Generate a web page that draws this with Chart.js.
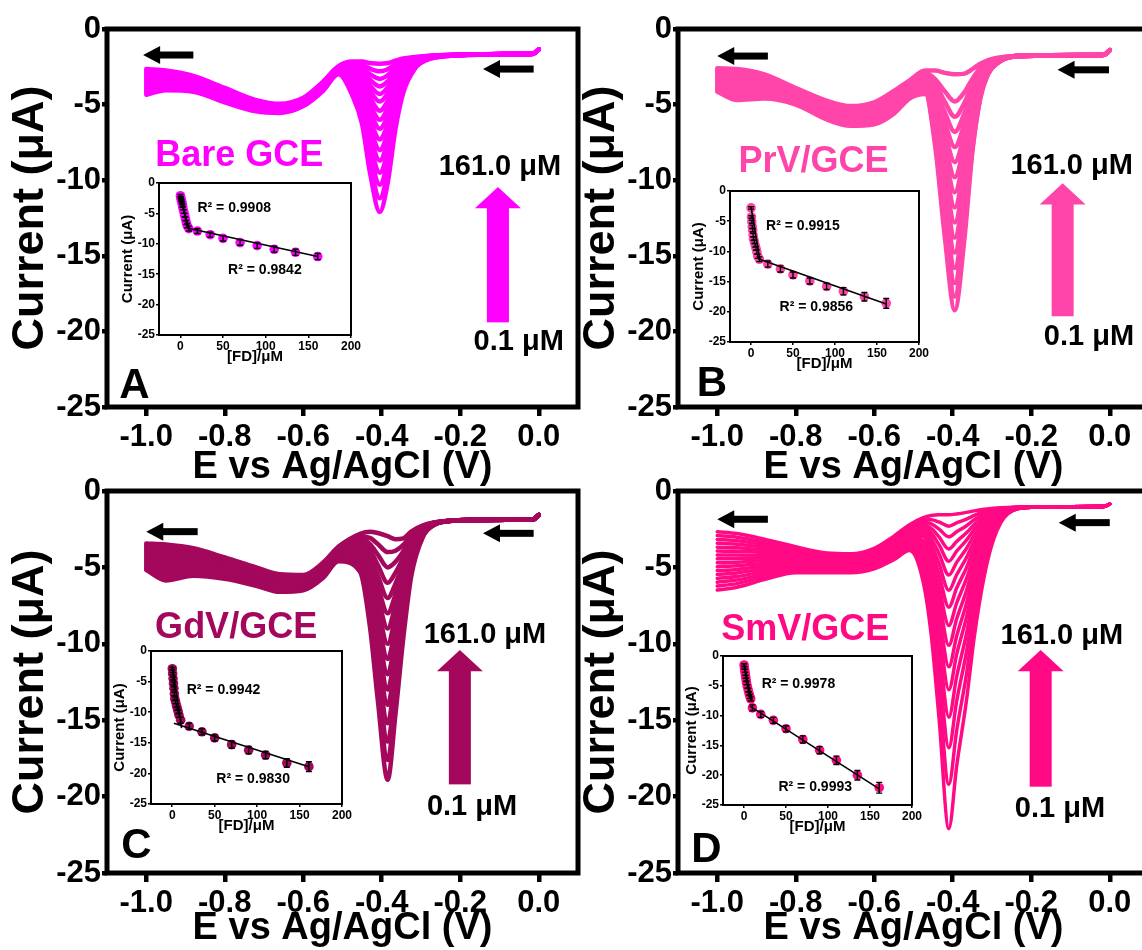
<!DOCTYPE html>
<html>
<head>
<meta charset="utf-8">
<title>FD titration - DPV</title>
<script src="https://cdn.jsdelivr.net/npm/chart.js@4.4.1/dist/chart.umd.min.js"></script>
<style>
  html, body { margin: 0; padding: 0; background: #fff; overflow: hidden; }
  body { width: 1142px; height: 950px; position: relative; }
  canvas { position: absolute; }
</style>
</head>
<body>
<canvas id="mainA"></canvas>
<canvas id="mainB"></canvas>
<canvas id="mainC"></canvas>
<canvas id="mainD"></canvas>
<canvas id="insetA"></canvas>
<canvas id="insetB"></canvas>
<canvas id="insetC"></canvas>
<canvas id="insetD"></canvas>
<script>
'use strict'

// ---- axis ticks ----
var potTicks = [-1.0, -0.8, -0.6, -0.4, -0.2, 0.0];
var currentTicks = [0, -5, -10, -15, -20, -25];
var concTicks = [0, 50, 100, 150, 200];

// ---- DPV curves ----
// potentials (V) where the currents were read, one list per electrode
var potA = [-1.00, -0.95, -0.88, -0.80, -0.72, -0.66, -0.60, -0.55, -0.51, -0.475, -0.45, -0.43, -0.405, -0.385, -0.365, -0.345, -0.315, -0.285, -0.245, -0.18, -0.08, -0.015, 0.00];
var potB = [-1.00, -0.95, -0.88, -0.80, -0.72, -0.66, -0.60, -0.55, -0.51, -0.47, -0.445, -0.42, -0.395, -0.37, -0.35, -0.33, -0.31, -0.285, -0.25, -0.18, -0.08, -0.015, 0.00];
var potC = [-1.00, -0.95, -0.88, -0.80, -0.72, -0.66, -0.60, -0.55, -0.51, -0.455, -0.43, -0.41, -0.385, -0.365, -0.345, -0.325, -0.295, -0.265, -0.225, -0.16, -0.08, -0.015, 0.00];
var potD = [-1.00, -0.95, -0.88, -0.80, -0.72, -0.66, -0.60, -0.55, -0.51, -0.475, -0.455, -0.435, -0.41, -0.39, -0.365, -0.345, -0.32, -0.295, -0.26, -0.20, -0.10, -0.015, 0.00];

// currents (uA): one row per potential above, one column per FD addition (0.1 -> 161.0 uM)
var curA = [
  [-2.65,-2.76,-2.88,-2.99,-3.10,-3.22,-3.33,-3.44,-3.56,-3.67,-3.78,-3.90,-4.01,-4.12,-4.24,-4.35],
  [-2.75,-2.84,-2.92,-3.01,-3.10,-3.18,-3.27,-3.36,-3.44,-3.53,-3.62,-3.70,-3.79,-3.88,-3.96,-4.05],
  [-3.10,-3.17,-3.24,-3.31,-3.38,-3.45,-3.52,-3.59,-3.66,-3.73,-3.80,-3.87,-3.94,-4.01,-4.08,-4.15],
  [-3.90,-3.96,-4.03,-4.09,-4.15,-4.22,-4.28,-4.34,-4.41,-4.47,-4.53,-4.60,-4.66,-4.72,-4.79,-4.85],
  [-4.70,-4.75,-4.80,-4.85,-4.90,-4.95,-5.00,-5.05,-5.10,-5.15,-5.20,-5.25,-5.30,-5.35,-5.40,-5.45],
  [-4.95,-4.99,-5.03,-5.07,-5.11,-5.15,-5.19,-5.23,-5.27,-5.31,-5.35,-5.39,-5.43,-5.47,-5.51,-5.55],
  [-4.55,-4.59,-4.62,-4.66,-4.70,-4.73,-4.77,-4.81,-4.84,-4.88,-4.92,-4.95,-4.99,-5.03,-5.06,-5.10],
  [-3.50,-3.54,-3.58,-3.62,-3.66,-3.70,-3.74,-3.78,-3.82,-3.86,-3.90,-3.94,-3.98,-4.02,-4.06,-4.10],
  [-2.45,-2.48,-2.52,-2.55,-2.58,-2.62,-2.65,-2.68,-2.72,-2.75,-2.78,-2.82,-2.85,-2.88,-2.92,-3.00],
  [-2.15,-2.27,-2.38,-2.49,-2.61,-2.72,-2.86,-3.00,-3.14,-3.30,-3.46,-3.62,-3.80,-3.99,-4.19,-4.40],
  [-2.15,-2.36,-2.57,-2.79,-3.00,-3.21,-3.46,-3.72,-3.97,-4.27,-4.57,-4.86,-5.20,-5.54,-5.92,-6.30],
  [-2.25,-2.62,-2.99,-3.36,-3.73,-4.10,-4.54,-4.99,-5.43,-5.95,-6.47,-6.98,-7.58,-8.17,-8.83,-9.50],
  [-2.30,-2.80,-3.30,-3.80,-4.30,-4.80,-5.40,-6.00,-6.60,-7.30,-8.00,-8.70,-9.50,-10.30,-11.20,-12.10],
  [-2.25,-2.66,-3.06,-3.47,-3.87,-4.28,-4.76,-5.26,-5.74,-6.31,-6.88,-7.44,-8.09,-8.74,-9.47,-10.20],
  [-2.10,-2.33,-2.56,-2.79,-3.02,-3.25,-3.52,-3.80,-4.08,-4.40,-4.72,-5.04,-5.41,-5.77,-6.19,-6.60],
  [-1.95,-2.07,-2.18,-2.29,-2.41,-2.52,-2.66,-2.80,-2.94,-3.10,-3.26,-3.42,-3.60,-3.79,-3.99,-4.20],
  [-1.85,-1.89,-1.93,-1.96,-2.00,-2.04,-2.09,-2.13,-2.18,-2.23,-2.29,-2.34,-2.40,-2.46,-2.53,-2.60],
  [-1.78,-1.79,-1.81,-1.82,-1.84,-1.85,-1.87,-1.88,-1.90,-1.92,-1.94,-1.96,-1.98,-2.00,-2.03,-2.05],
  [-1.72,-1.73,-1.73,-1.74,-1.74,-1.75,-1.75,-1.76,-1.77,-1.77,-1.78,-1.78,-1.79,-1.80,-1.81,-1.82],
  [-1.68,-1.68,-1.69,-1.69,-1.69,-1.69,-1.70,-1.70,-1.70,-1.70,-1.71,-1.71,-1.71,-1.71,-1.72,-1.72],
  [-1.65,-1.65,-1.65,-1.65,-1.65,-1.65,-1.66,-1.66,-1.66,-1.66,-1.66,-1.66,-1.67,-1.67,-1.67,-1.67],
  [-1.63,-1.63,-1.63,-1.63,-1.63,-1.63,-1.63,-1.63,-1.64,-1.64,-1.64,-1.64,-1.65,-1.65,-1.65,-1.65],
  [-1.35,-1.35,-1.35,-1.35,-1.35,-1.35,-1.35,-1.35,-1.35,-1.35,-1.35,-1.35,-1.35,-1.35,-1.35,-1.35]
];
var curB = [
  [-2.60,-2.70,-2.81,-2.91,-3.01,-3.12,-3.22,-3.32,-3.43,-3.53,-3.63,-3.74,-3.84,-3.94,-4.05,-4.15],
  [-2.65,-2.79,-2.92,-3.06,-3.20,-3.33,-3.47,-3.61,-3.74,-3.88,-4.02,-4.15,-4.29,-4.43,-4.56,-4.70],
  [-3.00,-3.11,-3.21,-3.32,-3.43,-3.53,-3.64,-3.75,-3.85,-3.96,-4.07,-4.17,-4.28,-4.39,-4.49,-4.60],
  [-3.90,-3.97,-4.05,-4.12,-4.19,-4.27,-4.34,-4.41,-4.49,-4.56,-4.63,-4.71,-4.78,-4.85,-4.93,-5.00],
  [-4.75,-4.83,-4.92,-5.00,-5.08,-5.17,-5.25,-5.33,-5.42,-5.50,-5.58,-5.67,-5.75,-5.83,-5.92,-6.00],
  [-5.10,-5.19,-5.27,-5.36,-5.45,-5.53,-5.62,-5.71,-5.79,-5.88,-5.97,-6.05,-6.14,-6.23,-6.31,-6.40],
  [-4.85,-4.95,-5.04,-5.14,-5.24,-5.33,-5.43,-5.53,-5.62,-5.72,-5.82,-5.91,-6.01,-6.11,-6.20,-6.30],
  [-4.10,-4.20,-4.30,-4.40,-4.50,-4.60,-4.70,-4.80,-4.90,-5.00,-5.10,-5.20,-5.30,-5.40,-5.50,-5.60],
  [-3.40,-3.48,-3.56,-3.64,-3.72,-3.80,-3.88,-3.96,-4.04,-4.12,-4.20,-4.28,-4.36,-4.44,-4.52,-4.60],
  [-2.75,-2.93,-3.03,-3.13,-3.23,-3.33,-3.43,-3.53,-3.62,-3.72,-3.82,-3.92,-4.02,-4.12,-4.21,-4.30],
  [-2.75,-3.31,-3.62,-3.93,-4.24,-4.55,-4.87,-5.18,-5.49,-5.80,-6.11,-6.42,-6.73,-7.04,-7.32,-7.70],
  [-2.90,-4.14,-4.82,-5.51,-6.19,-6.88,-7.56,-8.25,-8.93,-9.61,-10.30,-10.98,-11.68,-12.37,-12.98,-13.80],
  [-3.00,-4.80,-5.80,-6.80,-7.80,-8.80,-9.80,-10.80,-11.80,-12.80,-13.80,-14.80,-15.80,-16.80,-17.70,-18.60],
  [-2.95,-4.17,-4.86,-5.55,-6.23,-6.92,-7.61,-8.29,-8.97,-9.65,-10.34,-11.02,-11.72,-12.41,-13.02,-13.80],
  [-2.65,-3.30,-3.66,-4.03,-4.39,-4.75,-5.11,-5.48,-5.84,-6.20,-6.56,-6.92,-7.29,-7.65,-7.97,-8.10],
  [-2.30,-2.58,-2.73,-2.89,-3.04,-3.19,-3.35,-3.50,-3.65,-3.81,-3.96,-4.11,-4.27,-4.42,-4.56,-4.60],
  [-2.05,-2.16,-2.22,-2.28,-2.34,-2.40,-2.46,-2.53,-2.59,-2.65,-2.71,-2.77,-2.83,-2.89,-2.95,-3.00],
  [-1.90,-1.94,-1.96,-1.99,-2.01,-2.03,-2.05,-2.08,-2.10,-2.12,-2.14,-2.16,-2.19,-2.21,-2.23,-2.25],
  [-1.80,-1.80,-1.81,-1.81,-1.81,-1.82,-1.82,-1.82,-1.83,-1.83,-1.83,-1.84,-1.84,-1.84,-1.85,-1.85],
  [-1.75,-1.75,-1.75,-1.75,-1.75,-1.75,-1.75,-1.75,-1.76,-1.76,-1.76,-1.76,-1.77,-1.77,-1.77,-1.77],
  [-1.72,-1.72,-1.72,-1.72,-1.72,-1.72,-1.72,-1.72,-1.73,-1.73,-1.73,-1.73,-1.74,-1.74,-1.74,-1.74],
  [-1.70,-1.70,-1.70,-1.70,-1.70,-1.70,-1.70,-1.70,-1.71,-1.71,-1.71,-1.71,-1.72,-1.72,-1.72,-1.72],
  [-1.40,-1.40,-1.40,-1.40,-1.40,-1.40,-1.40,-1.40,-1.41,-1.41,-1.41,-1.41,-1.42,-1.42,-1.42,-1.42]
];
var curC = [
  [-3.43,-3.55,-3.66,-3.78,-3.90,-4.01,-4.13,-4.24,-4.36,-4.47,-4.59,-4.71,-4.82,-4.94,-5.05,-5.17],
  [-3.50,-3.66,-3.81,-3.97,-4.13,-4.28,-4.44,-4.60,-4.75,-4.91,-5.07,-5.22,-5.38,-5.54,-5.69,-5.85],
  [-3.75,-3.87,-3.99,-4.11,-4.23,-4.35,-4.47,-4.59,-4.71,-4.83,-4.95,-5.07,-5.19,-5.31,-5.43,-5.55],
  [-4.35,-4.44,-4.54,-4.63,-4.72,-4.82,-4.91,-5.00,-5.10,-5.19,-5.28,-5.38,-5.47,-5.56,-5.66,-5.75],
  [-5.00,-5.08,-5.16,-5.24,-5.32,-5.40,-5.48,-5.56,-5.64,-5.72,-5.80,-5.88,-5.96,-6.04,-6.12,-6.20],
  [-5.45,-5.53,-5.60,-5.68,-5.76,-5.83,-5.91,-5.99,-6.06,-6.14,-6.22,-6.29,-6.37,-6.45,-6.52,-6.60],
  [-5.50,-5.57,-5.63,-5.70,-5.77,-5.83,-5.90,-5.97,-6.03,-6.10,-6.17,-6.23,-6.30,-6.37,-6.43,-6.50],
  [-4.70,-4.77,-4.83,-4.90,-4.97,-5.03,-5.10,-5.17,-5.23,-5.30,-5.37,-5.43,-5.50,-5.57,-5.63,-5.70],
  [-3.64,-3.70,-3.77,-3.83,-3.90,-3.96,-4.02,-4.09,-4.15,-4.22,-4.28,-4.34,-4.41,-4.47,-4.54,-4.60],
  [-2.80,-2.97,-3.12,-3.28,-3.44,-3.59,-3.75,-3.91,-4.06,-4.22,-4.38,-4.53,-4.72,-4.91,-5.10,-5.30],
  [-2.66,-3.07,-3.47,-3.85,-4.25,-4.64,-5.03,-5.42,-5.81,-6.20,-6.59,-6.98,-7.45,-7.92,-8.39,-8.90],
  [-2.75,-3.47,-4.16,-4.84,-5.53,-6.22,-6.90,-7.59,-8.28,-8.96,-9.65,-10.34,-11.16,-11.98,-12.80,-13.70],
  [-2.95,-4.00,-5.00,-6.00,-7.00,-8.00,-9.00,-10.00,-11.00,-12.00,-13.00,-14.00,-15.20,-16.40,-17.60,-18.90],
  [-3.15,-3.91,-4.63,-5.34,-6.06,-6.78,-7.49,-8.21,-8.93,-9.64,-10.36,-11.09,-11.94,-12.80,-13.66,-14.60],
  [-3.10,-3.53,-3.94,-4.34,-4.75,-5.16,-5.56,-5.97,-6.38,-6.79,-7.20,-7.61,-8.09,-8.58,-9.07,-9.60],
  [-2.65,-2.85,-3.03,-3.21,-3.40,-3.59,-3.77,-3.95,-4.14,-4.32,-4.51,-4.69,-4.92,-5.14,-5.36,-5.60],
  [-2.25,-2.30,-2.35,-2.39,-2.44,-2.49,-2.53,-2.58,-2.63,-2.68,-2.72,-2.77,-2.83,-2.88,-2.94,-3.00],
  [-2.05,-2.06,-2.07,-2.08,-2.09,-2.10,-2.11,-2.12,-2.13,-2.14,-2.15,-2.16,-2.17,-2.18,-2.19,-2.20],
  [-1.94,-1.94,-1.94,-1.94,-1.94,-1.94,-1.94,-1.94,-1.95,-1.95,-1.95,-1.95,-1.95,-1.96,-1.96,-1.96],
  [-1.90,-1.90,-1.90,-1.90,-1.90,-1.90,-1.90,-1.90,-1.90,-1.90,-1.90,-1.90,-1.90,-1.90,-1.90,-1.90],
  [-1.88,-1.88,-1.88,-1.88,-1.88,-1.88,-1.88,-1.88,-1.88,-1.88,-1.88,-1.88,-1.88,-1.88,-1.88,-1.88],
  [-1.87,-1.87,-1.87,-1.87,-1.87,-1.87,-1.87,-1.87,-1.87,-1.87,-1.87,-1.87,-1.87,-1.87,-1.87,-1.87],
  [-1.57,-1.57,-1.57,-1.57,-1.57,-1.57,-1.57,-1.57,-1.57,-1.57,-1.57,-1.57,-1.57,-1.57,-1.57,-1.57]
];
var curD = [
  [-2.66,-2.92,-3.17,-3.42,-3.68,-3.93,-4.19,-4.44,-4.70,-4.95,-5.21,-5.46,-5.72,-5.97,-6.22,-6.48],
  [-2.78,-3.02,-3.25,-3.48,-3.72,-3.95,-4.19,-4.42,-4.66,-4.89,-5.13,-5.36,-5.60,-5.83,-6.06,-6.30],
  [-3.15,-3.33,-3.50,-3.68,-3.86,-4.03,-4.21,-4.39,-4.56,-4.74,-4.92,-5.09,-5.27,-5.45,-5.62,-5.80],
  [-3.65,-3.76,-3.88,-3.99,-4.10,-4.22,-4.33,-4.44,-4.56,-4.67,-4.78,-4.90,-5.01,-5.12,-5.24,-5.35],
  [-4.05,-4.14,-4.22,-4.31,-4.40,-4.48,-4.57,-4.66,-4.74,-4.83,-4.92,-5.00,-5.09,-5.18,-5.26,-5.35],
  [-4.10,-4.18,-4.27,-4.35,-4.43,-4.52,-4.60,-4.68,-4.77,-4.85,-4.93,-5.02,-5.10,-5.18,-5.27,-5.35],
  [-3.75,-3.84,-3.93,-4.02,-4.11,-4.20,-4.29,-4.38,-4.47,-4.56,-4.65,-4.74,-4.83,-4.92,-5.01,-5.10],
  [-2.95,-3.05,-3.16,-3.26,-3.36,-3.47,-3.57,-3.67,-3.78,-3.88,-3.98,-4.09,-4.19,-4.29,-4.40,-4.50],
  [-2.20,-2.31,-2.43,-2.54,-2.65,-2.77,-2.88,-2.99,-3.11,-3.22,-3.33,-3.45,-3.56,-3.67,-3.79,-3.90],
  [-1.75,-1.90,-2.05,-2.21,-2.38,-2.57,-2.77,-3.00,-3.25,-3.52,-3.81,-4.12,-4.49,-4.90,-5.40,-6.00],
  [-1.60,-1.88,-2.15,-2.45,-2.75,-3.10,-3.48,-3.89,-4.35,-4.85,-5.38,-5.95,-6.63,-7.39,-8.30,-9.40],
  [-1.55,-2.03,-2.49,-3.00,-3.52,-4.10,-4.76,-5.46,-6.25,-7.08,-7.99,-8.96,-10.13,-11.42,-12.97,-14.85],
  [-1.55,-2.30,-3.00,-3.80,-4.60,-5.50,-6.50,-7.60,-8.80,-10.10,-11.50,-13.00,-14.80,-16.80,-19.20,-22.10],
  [-1.50,-2.09,-2.67,-3.30,-3.94,-4.67,-5.48,-6.35,-7.33,-8.36,-9.49,-10.69,-12.14,-13.74,-15.67,-18.00],
  [-1.40,-1.84,-2.27,-2.74,-3.22,-3.76,-4.36,-5.02,-5.74,-6.52,-7.35,-8.25,-9.33,-10.53,-11.97,-13.70],
  [-1.30,-1.60,-1.88,-2.19,-2.51,-2.87,-3.28,-3.71,-4.20,-4.71,-5.27,-5.87,-6.59,-7.38,-8.34,-9.50],
  [-1.20,-1.36,-1.51,-1.68,-1.85,-2.05,-2.26,-2.49,-2.75,-3.03,-3.33,-3.65,-4.04,-4.47,-4.98,-5.60],
  [-1.13,-1.20,-1.27,-1.35,-1.42,-1.51,-1.61,-1.71,-1.83,-1.95,-2.08,-2.23,-2.40,-2.59,-2.82,-3.10],
  [-1.08,-1.10,-1.11,-1.13,-1.14,-1.16,-1.18,-1.20,-1.23,-1.26,-1.28,-1.31,-1.35,-1.39,-1.44,-1.50],
  [-1.05,-1.05,-1.05,-1.05,-1.05,-1.05,-1.05,-1.05,-1.06,-1.06,-1.06,-1.06,-1.07,-1.07,-1.07,-1.07],
  [-1.03,-1.03,-1.03,-1.03,-1.03,-1.03,-1.03,-1.03,-1.03,-1.03,-1.03,-1.03,-1.03,-1.03,-1.03,-1.03],
  [-1.02,-1.02,-1.02,-1.02,-1.02,-1.02,-1.02,-1.02,-1.02,-1.02,-1.02,-1.02,-1.02,-1.02,-1.02,-1.02],
  [-0.85,-0.85,-0.85,-0.85,-0.85,-0.85,-0.85,-0.85,-0.85,-0.85,-0.85,-0.85,-0.85,-0.85,-0.85,-0.85]
];

// ---- calibration insets ----
var concLow = [0.1, 0.5, 1, 1.5, 2, 2.5, 3, 4, 5, 6, 7, 8];
var concHigh = [10, 20, 35, 50, 70, 90, 110, 135, 161];
var errLow = [0.2, 0.2, 0.25, 0.25, 0.25, 0.3, 0.3, 0.3, 0.3, 0.3, 0.35, 0.35];

var lowA = [-2.1, -2.4, -2.7, -3.0, -3.3, -3.7, -4.1, -4.7, -5.3, -5.9, -6.5, -7.0];
var highA = [-7.5, -7.9, -8.5, -9.1, -9.8, -10.3, -10.9, -11.4, -12.1];
var errHighA = [0.4, 0.4, 0.4, 0.45, 0.45, 0.45, 0.5, 0.5, 0.5];
var fitLowA = [[0, -1.9], [10, -7.6]];
var fitHighA = [[8, -7.4], [161, -12.1]];

var lowB = [-2.8, -4.3, -5.1, -5.9, -6.5, -7.3, -7.9, -8.4, -9.0, -9.5, -10.1, -10.8];
var highB = [-11.3, -12.1, -12.9, -13.9, -14.9, -15.8, -16.6, -17.5, -18.6];
var errHighB = [0.4, 0.5, 0.5, 0.5, 0.5, 0.5, 0.6, 0.7, 0.8];
var fitLowB = [[0, -2.6], [10.5, -11.4]];
var fitHighB = [[8.5, -11.2], [161, -18.7]];

var lowC = [-2.9, -3.7, -4.5, -5.3, -6.1, -7.0, -7.8, -8.3, -8.9, -9.4, -9.9, -10.5];
var highC = [-11.3, -12.3, -13.2, -14.2, -15.3, -16.2, -17.0, -18.3, -18.9];
var errHighC = [0.5, 0.5, 0.5, 0.5, 0.6, 0.6, 0.6, 0.7, 0.8];
var fitLowC = [[0, -2.4], [11, -12.6]];
var fitHighC = [[2, -11.8], [161, -18.9]];

var lowD = [-1.5, -2.0, -2.5, -3.0, -3.5, -4.0, -4.5, -5.1, -5.7, -6.3, -6.8, -7.2];
var highD = [-8.7, -9.8, -10.8, -12.2, -14.0, -15.8, -17.5, -20.0, -22.1];
var errHighD = [0.5, 0.5, 0.5, 0.5, 0.6, 0.6, 0.7, 0.8, 0.9];
var fitLowD = [[0, -1.3], [9.5, -7.6]];
var fitHighD = [[7, -8.4], [161, -22.3]];

var FONT = "'Liberation Sans', Arial, Helvetica, sans-serif";
Chart.defaults.font.family = FONT;
Chart.defaults.color = '#000';

function placeCanvas(id, box) {
  var cv = document.getElementById(id);
  cv.width = box.w;
  cv.height = box.h;
  cv.style.left = box.left + 'px';
  cv.style.top = box.top + 'px';
  return cv;
}

function framePlugin(w) {
  return {
    id: 'frame',
    afterDatasetsDraw: function (chart) {
      var a = chart.chartArea, c = chart.ctx;
      c.save();
      c.strokeStyle = '#000';
      c.lineWidth = w;
      c.strokeRect(a.left, a.top, a.right - a.left, a.bottom - a.top);
      c.restore();
    }
  };
}

// arrows, electrode name, concentration labels, panel letter
function panelMarks(look) {
  return {
    id: 'marks',
    afterDraw: function (chart) {
      var c = chart.ctx, sx = chart.scales.x, sy = chart.scales.y;
      var X = function (v) { return sx.getPixelForValue(v); };
      var Y = function (v) { return sy.getPixelForValue(v); };
      c.save();
      c.fillStyle = '#000';
      look.scan.forEach(function (a) {
        var x0 = X(a.tip), x1 = X(a.tail), y = Y(a.at);
        c.fillRect(x0 + 14, y - 3.5, x1 - x0 - 14, 7);
        c.beginPath();
        c.moveTo(x0, y);
        c.lineTo(x0 + 17, y - 9);
        c.lineTo(x0 + 17, y + 9);
        c.closePath();
        c.fill();
      });
      var u = look.up, ux = X(u.x);
      c.fillStyle = look.color;
      c.fillRect(ux - 11, Y(u.head) - 1, 22, Y(u.from) - Y(u.head) + 1);
      c.beginPath();
      c.moveTo(ux, Y(u.tip));
      c.lineTo(ux - 23, Y(u.head));
      c.lineTo(ux + 23, Y(u.head));
      c.closePath();
      c.fill();

      c.textAlign = 'center';
      c.textBaseline = 'middle';
      c.font = 'bold 36px ' + FONT;
      c.fillText(look.name, X(look.nameAt[0]), Y(look.nameAt[1]));
      c.fillStyle = '#000';
      c.font = 'bold 29px ' + FONT;
      c.fillText(look.topText, X(look.topAt[0]), Y(look.topAt[1]));
      c.fillText(look.bottomText, X(look.bottomAt[0]), Y(look.bottomAt[1]));
      c.textAlign = 'left';
      c.textBaseline = 'alphabetic';
      c.font = 'bold 42px ' + FONT;
      c.fillText(look.letter, X(look.letterAt[0]), Y(look.letterAt[1]));
      c.restore();
    }
  };
}

function drawPanel(id, box, pot, rows, look) {
  var sets = [];
  for (var k = 0; k < rows[0].length; k++) {
    sets.push({
      data: pot.map(function (e, i) { return {x: e, y: rows[i][k]}; }),
      borderColor: look.color,
      borderWidth: look.stroke,
      pointRadius: 0,
      cubicInterpolationMode: 'monotone',
      borderJoinStyle: 'round',
      borderCapStyle: 'round',
      fill: false
    });
  }
  new Chart(placeCanvas(id, box), {
    type: 'line',
    data: {datasets: sets},
    options: {
      responsive: false,
      animation: false,
      devicePixelRatio: 1,
      events: [],
      layout: {padding: {top: 20, right: 6, bottom: 0, left: 0}},
      plugins: {legend: {display: false}, tooltip: {enabled: false}},
      scales: {
        x: {
          type: 'linear', min: -1.1, max: 0.1,
          afterBuildTicks: function (s) { s.ticks = potTicks.map(function (v) { return {value: v}; }); },
          afterFit: function (s) { s.height = box.xh; },
          border: {display: false},
          grid: {drawOnChartArea: false, tickLength: 9, lineWidth: 4.5, color: '#000'},
          ticks: {font: {size: 31, weight: 'bold'}, color: '#000', padding: 3, maxRotation: 0, autoSkip: false,
                  callback: function (v) { return Number(v).toFixed(1); }},
          title: {display: true, text: 'E vs Ag/AgCl (V)', font: {size: 38, weight: 'bold'}, color: '#000', padding: 0}
        },
        y: {
          type: 'linear', min: -25, max: 0,
          afterBuildTicks: function (s) { s.ticks = currentTicks.map(function (v) { return {value: v}; }); },
          afterFit: function (s) { s.width = 103; },
          border: {display: false},
          grid: {drawOnChartArea: false, tickLength: 5, lineWidth: 4.5, color: '#000'},
          ticks: {font: {size: 31, weight: 'bold'}, color: '#000', padding: 1,
                  callback: function (v) { return String(v); }},
          title: {display: true, text: 'Current (μA)', font: {size: 45, weight: 'bold'}, color: '#000', padding: 0}
        }
      }
    },
    plugins: [framePlugin(5), panelMarks(look)]
  });
}

// error bars and R² labels of the insets
function insetMarks(ins) {
  return {
    id: 'insetMarks',
    afterDatasetsDraw: function (chart) {
      var c = chart.ctx, sy = chart.scales.y;
      c.save();
      c.strokeStyle = '#000';
      c.lineWidth = 1.4;
      chart.data.datasets.forEach(function (ds, i) {
        if (!ds.errorBars) return;
        chart.getDatasetMeta(i).data.forEach(function (pt, j) {
          var v = ds.data[j].y, e = ds.errorBars[j];
          var y1 = sy.getPixelForValue(v + e), y2 = sy.getPixelForValue(v - e);
          c.beginPath();
          c.moveTo(pt.x, y1); c.lineTo(pt.x, y2);
          c.moveTo(pt.x - 3, y1); c.lineTo(pt.x + 3, y1);
          c.moveTo(pt.x - 3, y2); c.lineTo(pt.x + 3, y2);
          c.stroke();
        });
      });
      c.restore();
    },
    afterDraw: function (chart) {
      var c = chart.ctx, sx = chart.scales.x, sy = chart.scales.y;
      c.save();
      c.fillStyle = '#000';
      c.font = 'bold 14px ' + FONT;
      c.textAlign = 'left';
      c.textBaseline = 'middle';
      ins.r2.forEach(function (t, i) {
        c.fillText(t, sx.getPixelForValue(ins.r2At[i][0]), sy.getPixelForValue(ins.r2At[i][1]));
      });
      c.restore();
    }
  };
}

function drawInset(id, box, ins) {
  var pts = function (xs, ys) { return xs.map(function (x, i) { return {x: x, y: ys[i]}; }); };
  var pairs = function (p) { return p.map(function (q) { return {x: q[0], y: q[1]}; }); };
  var dot = {pointRadius: 4.8, pointBackgroundColor: ins.color, backgroundColor: ins.color, pointBorderWidth: 0, borderWidth: 0, showLine: false, order: 2};
  var fit = {type: 'line', borderColor: '#000', borderWidth: 1.6, pointRadius: 0, fill: false, order: 1};
  new Chart(placeCanvas(id, box), {
    type: 'scatter',
    data: {datasets: [
      Object.assign({data: pairs(ins.fitLow)}, fit),
      Object.assign({data: pairs(ins.fitHigh)}, fit),
      Object.assign({data: pts(concLow, ins.low), errorBars: errLow}, dot),
      Object.assign({data: pts(concHigh, ins.high), errorBars: ins.errHigh}, dot)
    ]},
    options: {
      responsive: false,
      animation: false,
      devicePixelRatio: 1,
      events: [],
      layout: {padding: {top: 10, right: 14, bottom: 0, left: 0}},
      plugins: {legend: {display: false}, tooltip: {enabled: false}},
      scales: {
        x: {
          type: 'linear', min: -25, max: 200,
          afterBuildTicks: function (s) { s.ticks = concTicks.map(function (v) { return {value: v}; }); },
          afterFit: function (s) { s.height = 31; },
          border: {display: false},
          grid: {drawOnChartArea: false, tickLength: 3, lineWidth: 1.5, color: '#000'},
          ticks: {font: {size: 12, weight: 'bold'}, color: '#000', padding: 1, maxRotation: 0, autoSkip: false,
                  callback: function (v) { return String(v); }},
          title: {display: true, text: '[FD]/μM', font: {size: 15, weight: 'bold'}, color: '#000', padding: 0}
        },
        y: {
          type: 'linear', min: -25, max: 0,
          afterBuildTicks: function (s) { s.ticks = currentTicks.map(function (v) { return {value: v}; }); },
          afterFit: function (s) { s.width = 40; },
          border: {display: false},
          grid: {drawOnChartArea: false, tickLength: 3, lineWidth: 1.5, color: '#000'},
          ticks: {font: {size: 12, weight: 'bold'}, color: '#000', padding: 1,
                  callback: function (v) { return String(v); }},
          title: {display: true, text: 'Current (μA)', font: {size: 15, weight: 'bold'}, color: '#000', padding: 0}
        }
      }
    },
    plugins: [framePlugin(2), insetMarks(ins)]
  });
}

// ---- main panels ----
drawPanel('mainA', {left: 4, top: 9, w: 580, h: 481, xh: 83}, potA, curA, {
  color: '#FF00FF', stroke: 4.5, name: 'Bare GCE', letter: 'A',
  nameAt: [-0.763, -8.4], letterAt: [-1.069, -24.4],
  topText: '161.0 μM', topAt: [-0.099, -9.1],
  bottomText: '0.1 μM', bottomAt: [-0.051, -20.7],
  up: {x: -0.104, from: -19.4, head: -11.85, tip: -10.45},
  scan: [{tail: -0.88, tip: -1.008, at: -1.72}, {tail: -0.013, tip: -0.142, at: -2.65}]
});
drawPanel('mainB', {left: 575, top: 9, w: 580, h: 481, xh: 83}, potB, curB, {
  color: '#FF45AA', stroke: 4.5, name: 'PrV/GCE', letter: 'B',
  nameAt: [-0.755, -8.8], letterAt: [-1.052, -24.3],
  topText: '161.0 μM', topAt: [-0.097, -9.06],
  bottomText: '0.1 μM', bottomAt: [-0.053, -20.4],
  up: {x: -0.12, from: -19.0, head: -11.6, tip: -10.2},
  scan: [{tail: -0.871, tip: -1.0, at: -1.79}, {tail: -0.002, tip: -0.133, at: -2.7}]
});
drawPanel('mainC', {left: 4, top: 471, w: 580, h: 480, xh: 78}, potC, curC, {
  color: '#A3085C', stroke: 4.5, name: 'GdV/GCE', letter: 'C',
  nameAt: [-0.771, -9.0], letterAt: [-1.064, -24.0],
  topText: '161.0 μM', topAt: [-0.137, -9.4],
  bottomText: '0.1 μM', bottomAt: [-0.17, -20.7],
  up: {x: -0.201, from: -19.2, head: -11.8, tip: -10.4},
  scan: [{tail: -0.869, tip: -1.0, at: -2.66}, {tail: -0.013, tip: -0.142, at: -2.77}]
});
drawPanel('mainD', {left: 575, top: 471, w: 580, h: 480, xh: 78}, potD, curD, {
  color: '#FF0A84', stroke: 3.5, name: 'SmV/GCE', letter: 'D',
  nameAt: [-0.776, -9.1], letterAt: [-1.066, -24.3],
  topText: '161.0 μM', topAt: [-0.122, -9.5],
  bottomText: '0.1 μM', bottomAt: [-0.127, -20.8],
  up: {x: -0.176, from: -19.35, head: -11.8, tip: -10.4},
  scan: [{tail: -0.871, tip: -1.0, at: -1.85}, {tail: 0.0, tip: -0.13, at: -2.07}]
});

// ---- insets ----
drawInset('insetA', {left: 119, top: 173, w: 246, h: 193}, {
  color: '#FF00FF', low: lowA, high: highA, errHigh: errHighA, fitLow: fitLowA, fitHigh: fitHighA,
  r2: ['R² = 0.9908', 'R² = 0.9842'], r2At: [[20, -4.1], [56, -14.3]]
});
drawInset('insetB', {left: 690, top: 181, w: 243, h: 192}, {
  color: '#FF45AA', low: lowB, high: highB, errHigh: errHighB, fitLow: fitLowB, fitHigh: fitHighB,
  r2: ['R² = 0.9915', 'R² = 0.9856'], r2At: [[18, -5.8], [34, -19.2]]
});
drawInset('insetC', {left: 111, top: 641, w: 245, h: 194}, {
  color: '#A3085C', low: lowC, high: highC, errHigh: errHighC, fitLow: fitLowC, fitHigh: fitHighC,
  r2: ['R² = 0.9942', 'R² = 0.9830'], r2At: [[17, -6.4], [52, -20.9]]
});
drawInset('insetD', {left: 683, top: 646, w: 243, h: 190}, {
  color: '#FF0A84', low: lowD, high: highD, errHigh: errHighD, fitLow: fitLowD, fitHigh: fitHighD,
  r2: ['R² = 0.9978', 'R² = 0.9993'], r2At: [[21, -4.7], [41, -22.0]]
});
</script>
</body>
</html>
